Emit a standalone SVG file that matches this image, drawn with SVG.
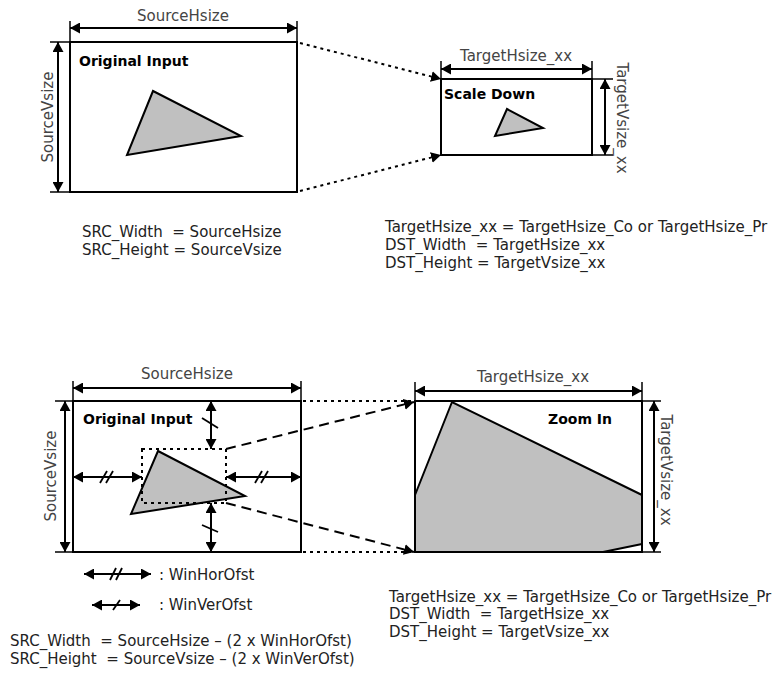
<svg xmlns="http://www.w3.org/2000/svg" width="777" height="673" viewBox="0 0 777 673">
<defs>
<marker id="ah" markerUnits="userSpaceOnUse" markerWidth="10" markerHeight="11" refX="10" refY="5.5" orient="auto-start-reverse" viewBox="0 0 10 11">
<path d="M0,0 L10,5.5 L0,11 z" fill="#000"/>
</marker>
<style>
.box{fill:none;stroke:#000;stroke-width:2}
.dim{stroke:#000;stroke-width:2;fill:none;marker-start:url(#ah);marker-end:url(#ah)}
.ext{stroke:#000;stroke-width:1.5;fill:none}
.tick{stroke:#000;stroke-width:1.8;fill:none}
.dot{stroke:#000;stroke-width:2;stroke-dasharray:3 4;fill:none}
.dash{stroke:#000;stroke-width:2;stroke-dasharray:10 6;fill:none}
.tri{fill:#c0c0c0;stroke:#000;stroke-width:2}
.gray{fill:#c0c0c0;stroke:none}
.edge{fill:none;stroke:#000;stroke-width:2}
text{font-family:"DejaVu Sans","Liberation Sans",sans-serif;font-size:15px;fill:#222;white-space:pre}
.lbl{fill:#444}
.mid{text-anchor:middle}
.ttl{font-weight:bold;font-size:14px;fill:#000}
</style>
</defs>

<!-- Top: Original Input -->
<g id="src-top">
<rect class="box" x="70" y="42" width="227" height="150"/>
<polygon class="tri" points="153,91 127,155 241,136"/>
<text class="ttl" x="79" y="66">Original Input</text>
</g>
<g id="dim-src-top">
<line class="ext" x1="70" y1="21" x2="70" y2="42"/>
<line class="ext" x1="297" y1="21" x2="297" y2="42"/>
<line class="dim" x1="70" y1="28" x2="297" y2="28"/>
<text class="lbl mid" x="183" y="21">SourceHsize</text>
<line class="ext" x1="50" y1="42" x2="70" y2="42"/>
<line class="ext" x1="50" y1="192" x2="70" y2="192"/>
<line class="dim" x1="58" y1="42" x2="58" y2="192"/>
<text class="lbl mid" transform="translate(53,117) rotate(-90)">SourceVsize</text>
</g>

<!-- Top: Scale Down -->
<g id="dst-top">
<rect class="box" x="441" y="79" width="151" height="76"/>
<polygon class="tri" points="507,109 495,136 543,128"/>
<text class="ttl" x="444" y="99">Scale Down</text>
</g>
<g id="dim-dst-top">
<line class="ext" x1="441" y1="61" x2="441" y2="79"/>
<line class="ext" x1="592" y1="61" x2="592" y2="79"/>
<line class="dim" x1="441" y1="69" x2="592" y2="69"/>
<text class="lbl mid" x="516" y="61">TargetHsize_xx</text>
<line class="ext" x1="592" y1="79" x2="613" y2="79"/>
<line class="ext" x1="592" y1="155" x2="613" y2="155"/>
<line class="dim" x1="605" y1="79" x2="605" y2="155"/>
<text class="lbl mid" transform="translate(617,118) rotate(90)">TargetVsize_xx</text>
</g>

<g id="connectors">
<line class="dot" x1="300" y1="43" x2="441" y2="79" marker-end="url(#ah)"/>
<line class="dot" x1="300" y1="191" x2="441" y2="155" marker-end="url(#ah)"/>
<line class="dot" x1="303" y1="401" x2="414" y2="401"/>
<line class="dot" x1="303" y1="552" x2="414" y2="552"/>
<line class="dash" x1="226" y1="449" x2="414" y2="402" marker-end="url(#ah)"/>
<line class="dash" x1="226" y1="503" x2="414" y2="552" marker-end="url(#ah)"/>
</g>

<g id="formula-top-left">
<text x="82" y="237">SRC_Width  = SourceHsize</text>
<text x="82" y="255">SRC_Height = SourceVsize</text>
</g>
<g id="formula-top-right">
<text x="385" y="232">TargetHsize_xx = TargetHsize_Co or TargetHsize_Pr</text>
<text x="385" y="250">DST_Width  = TargetHsize_xx</text>
<text x="385" y="268">DST_Height = TargetVsize_xx</text>
</g>

<!-- Bottom: Original Input with window -->
<g id="src-bottom">
<rect class="box" x="73" y="401" width="228" height="151"/>
<polygon class="tri" points="158,451 131,514 245,496"/>
<rect class="dot" x="142" y="449" width="84" height="54"/>
<text class="ttl" x="83" y="424">Original Input</text>
<line class="dim" x1="211" y1="401" x2="211" y2="449"/>
<line class="tick" x1="202" y1="418" x2="218" y2="428"/>
<line class="dim" x1="211" y1="503" x2="211" y2="552"/>
<line class="tick" x1="202" y1="525" x2="218" y2="532"/>
<line class="dim" x1="73" y1="477" x2="142" y2="477"/>
<line class="tick" x1="100" y1="483" x2="107" y2="471"/>
<line class="tick" x1="106" y1="483" x2="113" y2="471"/>
<line class="dim" x1="226" y1="477" x2="301" y2="477"/>
<line class="tick" x1="255" y1="483" x2="262" y2="471"/>
<line class="tick" x1="261" y1="483" x2="268" y2="471"/>
</g>
<g id="dim-src-bottom">
<line class="ext" x1="73" y1="381" x2="73" y2="401"/>
<line class="ext" x1="301" y1="381" x2="301" y2="401"/>
<line class="dim" x1="73" y1="388" x2="301" y2="388"/>
<text class="lbl mid" x="187" y="379">SourceHsize</text>
<line class="ext" x1="55" y1="401" x2="73" y2="401"/>
<line class="ext" x1="55" y1="552" x2="73" y2="552"/>
<line class="dim" x1="65" y1="401" x2="65" y2="552"/>
<text class="lbl mid" transform="translate(56,476) rotate(-90)">SourceVsize</text>
</g>

<!-- Bottom: Zoom In -->
<g id="dst-bottom">
<polygon class="gray" points="415,495 452,402 642,495 642,544 603,552 415,552"/>
<polyline class="edge" points="415,495 452,402 642,495"/>
<line class="edge" x1="603" y1="552" x2="642" y2="544"/>
<rect class="box" x="415" y="401" width="227" height="151"/>
<text class="ttl" x="548" y="424">Zoom In</text>
</g>
<g id="dim-dst-bottom">
<line class="ext" x1="415" y1="382" x2="415" y2="401"/>
<line class="ext" x1="642" y1="382" x2="642" y2="401"/>
<line class="dim" x1="415" y1="391" x2="642" y2="391"/>
<text class="lbl mid" x="533" y="382">TargetHsize_xx</text>
<line class="ext" x1="642" y1="401" x2="661" y2="401"/>
<line class="ext" x1="642" y1="552" x2="661" y2="552"/>
<line class="dim" x1="654" y1="401" x2="654" y2="552"/>
<text class="lbl mid" transform="translate(661,470) rotate(90)">TargetVsize_xx</text>
</g>

<g id="legend">
<line class="dim" x1="84" y1="574" x2="151" y2="574"/>
<line class="tick" x1="110" y1="580" x2="116" y2="568"/>
<line class="tick" x1="116" y1="580" x2="122" y2="568"/>
<text x="159" y="580">: WinHorOfst</text>
<line class="dim" x1="92" y1="605" x2="140" y2="605"/>
<line class="tick" x1="113" y1="610" x2="120" y2="600"/>
<text x="159" y="610">: WinVerOfst</text>
</g>

<g id="formula-bottom-left">
<text x="10" y="646">SRC_Width  = SourceHsize – (2 x WinHorOfst)</text>
<text x="10" y="664">SRC_Height  = SourceVsize – (2 x WinVerOfst)</text>
</g>
<g id="formula-bottom-right">
<text x="389" y="602">TargetHsize_xx = TargetHsize_Co or TargetHsize_Pr</text>
<text x="389" y="619">DST_Width  = TargetHsize_xx</text>
<text x="389" y="637">DST_Height = TargetVsize_xx</text>
</g>
</svg>
